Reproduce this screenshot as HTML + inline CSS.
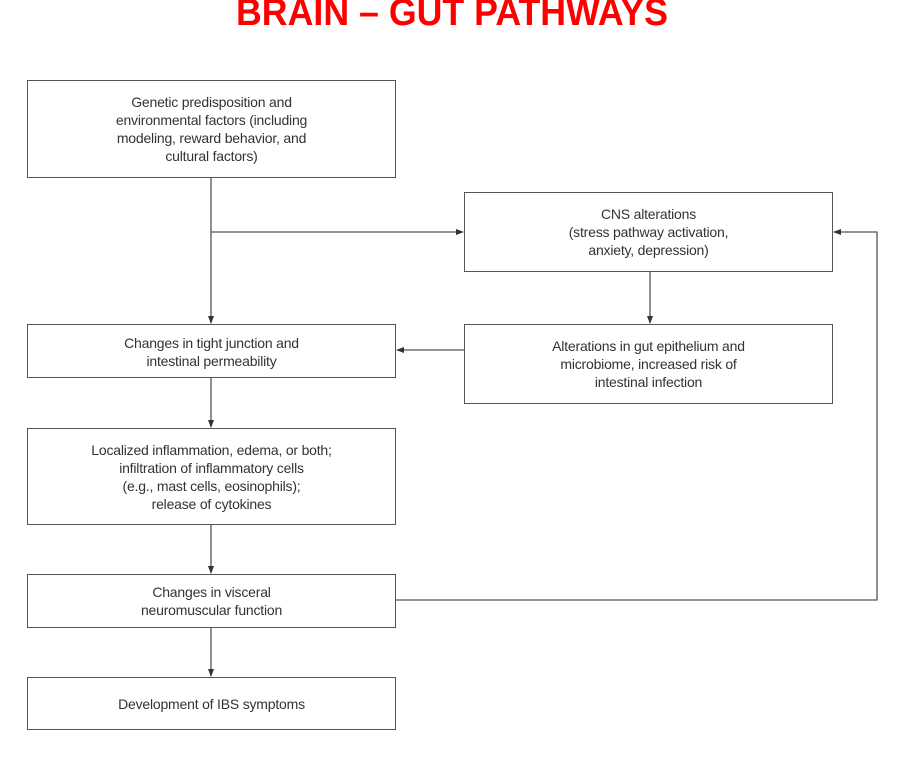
<!DOCTYPE html>
<html><head><style>
body{margin:0;width:904px;height:760px;background:#fff;position:relative;overflow:hidden;font-family:"Liberation Sans",sans-serif;}
.t{position:absolute;left:0;width:904px;top:-8px;text-align:center;color:#f00;font-weight:bold;font-size:38px;transform:scaleX(0.94);letter-spacing:0px}
.b{position:absolute;border:1.5px solid #555;box-sizing:border-box;display:flex;align-items:center;justify-content:center;text-align:center;color:#333;font-size:14px;line-height:18px;letter-spacing:-0.2px}
</style></head><body>
<div class="t">BRAIN – GUT PATHWAYS</div>
<svg width="904" height="760" style="position:absolute;left:0;top:0">
<defs><marker id="a" markerWidth="8" markerHeight="8" refX="7" refY="4" orient="auto" markerUnits="userSpaceOnUse"><path d="M0,1 L8,4 L0,7z" fill="#333"/></marker></defs>
<g stroke="#555" stroke-width="1.3" fill="none">
<line x1="211" y1="178" x2="211" y2="323" marker-end="url(#a)"/>
<line x1="211" y1="232" x2="463" y2="232" marker-end="url(#a)"/>
<line x1="650" y1="272" x2="650" y2="323" marker-end="url(#a)"/>
<line x1="464" y1="350" x2="397" y2="350" marker-end="url(#a)"/>
<line x1="211" y1="378" x2="211" y2="427" marker-end="url(#a)"/>
<line x1="211" y1="525" x2="211" y2="573" marker-end="url(#a)"/>
<line x1="211" y1="628" x2="211" y2="676" marker-end="url(#a)"/>
<polyline points="396,600 877,600 877,232 834,232" marker-end="url(#a)"/>
</g></svg>
<div class="b" style="left:27px;top:80px;width:369px;height:98px">Genetic predisposition and<br>environmental factors (including<br>modeling, reward behavior, and<br>cultural factors)</div>
<div class="b" style="left:464px;top:192px;width:369px;height:80px">CNS alterations<br>(stress pathway activation,<br>anxiety, depression)</div>
<div class="b" style="left:27px;top:324px;width:369px;height:54px;align-items:flex-start;padding-top:9px">Changes in tight junction and<br>intestinal permeability</div>
<div class="b" style="left:464px;top:324px;width:369px;height:80px">Alterations in gut epithelium and<br>microbiome, increased risk of<br>intestinal infection</div>
<div class="b" style="left:27px;top:428px;width:369px;height:97px">Localized inflammation, edema, or both;<br>infiltration of inflammatory cells<br>(e.g., mast cells, eosinophils);<br>release of cytokines</div>
<div class="b" style="left:27px;top:574px;width:369px;height:54px">Changes in visceral<br>neuromuscular function</div>
<div class="b" style="left:27px;top:677px;width:369px;height:53px">Development of IBS symptoms</div>
</body></html>
